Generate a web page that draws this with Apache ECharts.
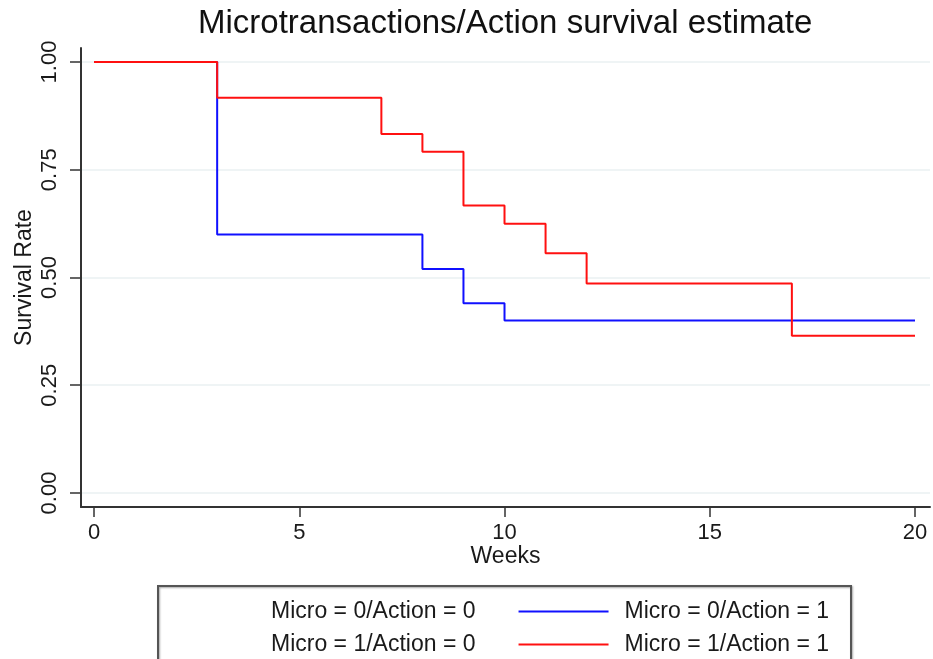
<!DOCTYPE html>
<html><head><meta charset="utf-8">
<script src="https://cdn.jsdelivr.net/npm/echarts@6/dist/echarts.min.js"></script>
<style>html,body{margin:0;padding:0;background:#fff}#c{width:933px;height:659px}</style>
</head><body><div id="c"></div>
<script>
const chartTitle = 'Microtransactions/Action survival estimate';
const xName = 'Weeks';
const yName = 'Survival Rate';
const xTicks = [0, 5, 10, 15, 20];
const yTicks = [0, 0.25, 0.5, 0.75, 1];
const seriesNames = ['Micro = 0/Action = 0', 'Micro = 0/Action = 1', 'Micro = 1/Action = 0', 'Micro = 1/Action = 1'];
const weeksM0A1 = [0, 3, 8, 9, 10, 20];
const survM0A1 = [1, 0.6, 0.52, 0.44, 0.40, 0.40];
const weeksM1A1 = [0, 3, 7, 8, 9, 10, 11, 12, 17, 20];
const survM1A1 = [1, 0.917, 0.833, 0.792, 0.667, 0.625, 0.556, 0.486, 0.365, 0.365];

const FONT = "'Liberation Sans', Arial, Helvetica, sans-serif";
const zip = (xs, ys) => xs.map((x, i) => [x, ys[i]]);
const chart = echarts.init(document.getElementById('c'), null, {renderer: 'canvas'});
const legendText = {fontSize: 23, fontFamily: FONT, color: '#1a1a1a', width: 220, padding: [0, 0, 0, 11]};
chart.setOption({
  backgroundColor: '#ffffff',
  animation: false,
  title: {text: chartTitle, left: 193, top: 2, textStyle: {fontSize: 33, fontWeight: 'normal', fontFamily: FONT, color: '#111'}},
  grid: {left: 81, right: 3, top: 48, bottom: 152, containLabel: false},
  xAxis: {
    type: 'value', min: -0.317, max: 20.365,
    name: xName, nameLocation: 'middle', nameGap: 38, nameMoveOverlap: false,
    nameTextStyle: {fontSize: 23, fontFamily: FONT, color: '#1a1a1a'},
    axisLine: {onZero: false, lineStyle: {color: '#333', width: 2}},
    axisTick: {customValues: xTicks, length: 10, lineStyle: {color: '#333', width: 1.5}},
    axisLabel: {customValues: xTicks, fontSize: 22, fontFamily: FONT, color: '#1a1a1a', margin: 15},
    splitLine: {show: false}
  },
  yAxis: {
    type: 'value', min: -0.0325, max: 1.0325,
    name: yName, nameLocation: 'middle', nameGap: 45, nameMoveOverlap: false,
    nameTextStyle: {fontSize: 23, fontFamily: FONT, color: '#1a1a1a'},
    axisLine: {show: true, onZero: false, lineStyle: {color: '#333', width: 2}},
    axisTick: {show: true, customValues: yTicks, length: 11, lineStyle: {color: '#333', width: 1.5}},
    axisLabel: {customValues: yTicks, rotate: 90, fontSize: 22, fontFamily: FONT, color: '#1a1a1a', margin: 20,
      formatter: v => Number(v).toFixed(2)},
    splitLine: {show: true, lineStyle: {color: '#eaf1f2', width: 1.5}}
  },
  legend: [
    {data: [seriesNames[0], seriesNames[1]], left: 160, top: 595, icon: 'rect', itemWidth: 90, itemHeight: 2, itemGap: 43,
     selectedMode: false, textStyle: legendText},
    {data: [seriesNames[2], seriesNames[3]], left: 160, top: 628, icon: 'rect', itemWidth: 90, itemHeight: 2, itemGap: 43,
     selectedMode: false, textStyle: legendText}
  ],
  graphic: [{
    type: 'rect', z: 0, silent: true,
    shape: {x: 158, y: 586, width: 693, height: 120},
    style: {fill: 'transparent', stroke: '#555', lineWidth: 2, shadowBlur: 2, shadowColor: 'rgba(0,0,0,0.35)', shadowOffsetX: 1, shadowOffsetY: 1}
  }],
  series: [
    {name: seriesNames[0], type: 'line', data: [], symbol: 'none', itemStyle: {color: 'rgba(0,0,0,0)'}, lineStyle: {color: 'rgba(0,0,0,0)'}},
    {name: seriesNames[1], type: 'line', step: 'end', data: zip(weeksM0A1, survM0A1), symbol: 'none',
     itemStyle: {color: '#1010ff'}, lineStyle: {color: '#1010ff', width: 2}, z: 2},
    {name: seriesNames[2], type: 'line', data: [], symbol: 'none', itemStyle: {color: 'rgba(0,0,0,0)'}, lineStyle: {color: 'rgba(0,0,0,0)'}},
    {name: seriesNames[3], type: 'line', step: 'end', data: zip(weeksM1A1, survM1A1), symbol: 'none',
     itemStyle: {color: '#ff1010'}, lineStyle: {color: '#ff1010', width: 2}, z: 3}
  ]
});
</script></body></html>
